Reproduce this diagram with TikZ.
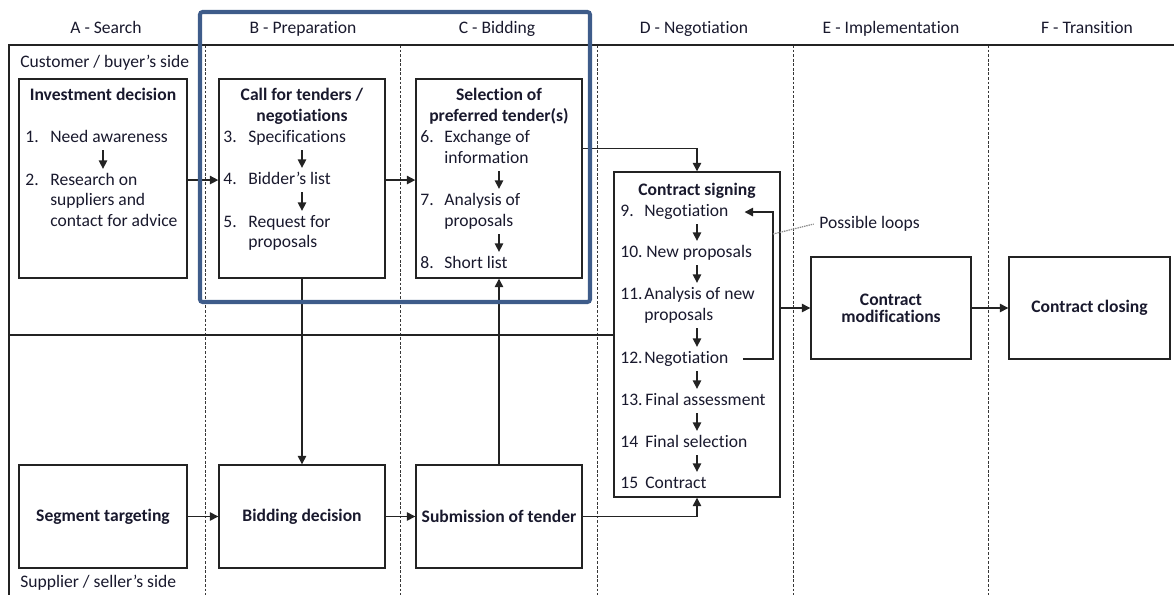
\documentclass[tikz,border=0pt]{standalone}
\usepackage{fontspec}
\setmainfont{Carlito}[Ligatures={NoCommon,NoRare},Contextuals=NoAlternate]
\usetikzlibrary{arrows.meta,fit,calc}
\definecolor{ink}{RGB}{25,25,45}
\definecolor{edge}{RGB}{35,35,35}
\definecolor{phase}{RGB}{62,92,138}
\definecolor{guide}{RGB}{55,55,55}
\definecolor{note}{RGB}{140,140,140}
\begin{document}
\begin{tikzpicture}[x=0.02cm,y=-0.02cm,
  box/.style={draw=edge,line width=0.8pt,inner sep=0pt,fill=none},
  row/.style={inner sep=0pt,anchor=base west,text=ink,text height=7pt,text depth=2.5pt,font=\fontsize{10}{12}\selectfont},
  head/.style={inner sep=0pt,anchor=base,text=ink,font=\fontsize{10}{12}\selectfont},
  ttl/.style={inner sep=0pt,anchor=base,text=ink,font=\fontsize{10}{12}\selectfont\bfseries},
  ttlc/.style={inner sep=0pt,anchor=center,text=ink,align=center,font=\fontsize{10}{12}\selectfont\bfseries},
  arr/.style={draw=edge,line width=0.8pt,-{Triangle[length=4.8pt,width=4.8pt]}},
  stepar/.style={arr,shorten <=2pt,shorten >=2pt},
  lane/.style={draw=guide,line width=0.55pt,dash pattern=on 1.6pt off 1pt},
  framel/.style={draw=edge,line width=0.8pt}]
\useasboundingbox (0,0) rectangle (1174,595);

% phase columns
\foreach \lx in {205,400,597,793,988}
  \draw[lane] (\lx,45) -- (\lx,595);
\coordinate (frameBL) at (9,595);
\coordinate (frameTL) at (9,45);
\coordinate (frameTR) at (1174,45);
\draw[framel] (frameBL) -- (frameTL) -- (frameTR);

% column headings
\node[head] (hA) at (106,33) {A - Search};
\node[head] (hB) at (303,33) {B - Preparation};
\node[head] (hC) at (497,33) {C - Bidding};
\node[head] (hD) at (694,33) {D - Negotiation};
\node[head] (hE) at (891,33) {E - Implementation};
\node[head] (hF) at (1087,33) {F - Transition};

\node[row] (buyer) at (20,67) {Customer / buyer’s side};
\node[row] (seller) at (20,587) {Supplier / seller’s side};

% boxes
\node[box,fit={(19,79) (187,278)}] (inv) {};
\node[box,fit={(219,79) (385,278)}] (cft) {};
\node[box,fit={(416,79) (582,278)}] (sel) {};
\node[box,fit={(614,172) (780,497)}] (cs) {};
\node[box,fit={(811,257) (971,359)}] (mod) {};
\node[box,fit={(1009,257) (1170,359)}] (clo) {};
\node[box,fit={(19,465) (187,568)}] (seg) {};
\node[box,fit={(219,465) (385,568)}] (bid) {};
\node[box,fit={(416,465) (582,568)}] (sub) {};

% buyer / seller divider
\coordinate (sepL) at (9,335);
\draw[framel] (sepL) -- (sepL -| cs.west);

% A: investment decision
\node[ttl] (invT) at (103,100) {Investment decision};
\node[row] (i1n) at (25,142) {1.};
\node[row] (i1) at (50,142) {Need awareness};
\node[row] (i2n) at (25,185) {2.};
\node[row] (i2a) at (50,185) {Research on};
\node[row] (i2b) at (50,205) {suppliers and};
\node[row] (i2c) at (50,226) {contact for advice};
\draw[stepar] (inv.center |- i1.south) -- (inv.center |- i2a.north);

% B: call for tenders
\node[ttl] (cftT1) at (302,100) {Call for tenders /};
\node[ttl] (cftT2) at (302,121) {negotiations};
\node[row] (i3n) at (223,142) {3.};
\node[row] (i3) at (248,142) {Specifications};
\node[row] (i4n) at (223,184) {4.};
\node[row] (i4) at (248,184) {Bidder’s list};
\node[row] (i5n) at (223,227) {5.};
\node[row] (i5a) at (248,227) {Request for};
\node[row] (i5b) at (248,247) {proposals};
\draw[stepar] (cft.center |- i3.south) -- (cft.center |- i4.north);
\draw[stepar] (cft.center |- i4.south) -- (cft.center |- i5a.north);

% C: selection of preferred tenders
\node[ttl] (selT1) at (499,100) {Selection of};
\node[ttl] (selT2) at (499,121) {preferred tender(s)};
\node[row] (i6n) at (420,142) {6.};
\node[row] (i6a) at (444,142) {Exchange of};
\node[row] (i6b) at (444,163) {information};
\node[row] (i7n) at (420,205) {7.};
\node[row] (i7a) at (444,205) {Analysis of};
\node[row] (i7b) at (444,226) {proposals};
\node[row] (i8n) at (420,268) {8.};
\node[row] (i8) at (444,268) {Short list};
\draw[stepar] (sel.center |- i6b.south) -- (sel.center |- i7a.north);
\draw[stepar] (sel.center |- i7b.south) -- (sel.center |- i8.north);

% D: contract signing
\node[ttl] (csT) at (697,195) {Contract signing};
\node[row] (i9n) at (620,216) {9.};
\node[row] (i9) at (644,216) {Negotiation};
\node[row] (i10n) at (620,257) {10.};
\node[row] (i10) at (646,257) {New proposals};
\node[row] (i11n) at (620,299) {11.};
\node[row] (i11a) at (644,299) {Analysis of new};
\node[row] (i11b) at (644,320) {proposals};
\node[row] (i12n) at (620,363) {12.};
\node[row] (i12) at (644,363) {Negotiation};
\node[row] (i13n) at (620,405) {13.};
\node[row] (i13) at (645,405) {Final assessment};
\node[row] (i14n) at (620,447) {14};
\node[row] (i14) at (645,447) {Final selection};
\node[row] (i15n) at (620,488) {15};
\node[row] (i15) at (645,488) {Contract};
\draw[stepar] (cs.center |- i9.south) -- (cs.center |- i10.north);
\draw[stepar] (cs.center |- i10.south) -- (cs.center |- i11a.north);
\draw[stepar] (cs.center |- i11b.south) -- (cs.center |- i12.north);
\draw[stepar] (cs.center |- i12.south) -- (cs.center |- i13.north);
\draw[stepar] (cs.center |- i13.south) -- (cs.center |- i14.north);
\draw[stepar] (cs.center |- i14.south) -- (cs.center |- i15.north);

% negotiation loop
\coordinate (loopx) at (773,0);
\draw[arr] ([xshift=8pt]i12.east) -- (loopx |- i12.east) |- ([xshift=9pt]i9.east);
\node[row,text=ink] (loops) at (819,228) {Possible loops};
\coordinate (loopd) at (773,234);
\draw[note,line width=0.7pt,dash pattern=on 0.8pt off 0.5pt] (loopd) -- ([xshift=-3pt]loops.west);

% E, F
\node[ttlc] (modT) at (mod.center) {Contract\\[-2.5pt]modifications};
\node[ttlc] (cloT) at (clo.center) {Contract closing};

% seller side boxes
\node[ttlc] (segT) at (seg.center) {Segment targeting};
\node[ttlc] (bidT) at (bid.center) {Bidding decision};
\node[ttlc] (subT) at (sub.center) {Submission of tender};

% flow connectors
\draw[arr] (inv.east |- i4.center) -- (cft.west |- i4.center);
\draw[arr] (cft.east |- i4.center) -- (sel.west |- i4.center);
\draw[arr] ([yshift=-1pt]sel.east |- i6a.south) -| (cs.north);
\draw[arr] (cft.south) -- (bid.north);
\draw[arr] (sub.north) -- (sel.south);
\draw[arr] (seg.east) -- (bid.west);
\draw[arr] (bid.east) -- (sub.west);
\draw[arr] (sub.east) -| (cs.south);
\draw[arr] (cs.east |- mod.west) -- (mod.west);
\draw[arr] (mod.east) -- (clo.west);

% highlighted phases B and C
\node[draw=phase,line width=2.3pt,rounded corners=1.5pt,inner sep=0pt,fit={(200,12) (590,302)}] (bc) {};
\end{tikzpicture}
\end{document}
